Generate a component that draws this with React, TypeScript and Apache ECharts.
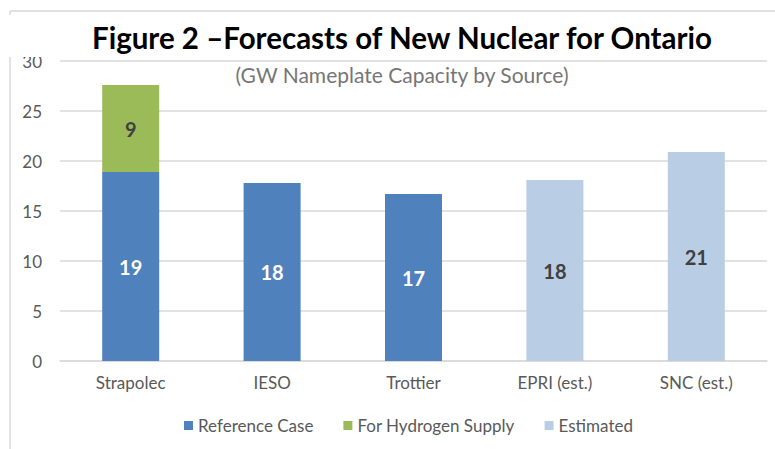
import React, { useEffect, useRef } from "react";
import * as echarts from "echarts";

const categories = ["Strapolec", "IESO", "Trottier", "EPRI (est.)", "SNC (est.)"];
const referenceCase = [18.9, 17.8, 16.7, null, null];
const hydrogenSupply = [8.7, null, null, null, null];
const estimated = [null, null, null, 18.1, 20.9];
const yTicks = { min: 0, max: 30, interval: 5 };

const FONT = "Lato, 'Open Sans', sans-serif";

export default function App() {
  const ref = useRef<HTMLDivElement>(null);
  useEffect(() => {
    if (!ref.current) return;
    const chart = echarts.init(ref.current, undefined, { renderer: "svg" });
    const lbl = (color: string) => ({
      show: true,
      position: "inside",
      color,
      fontFamily: FONT,
      fontWeight: "bold",
      fontSize: 20,
      formatter: (p: any) => (p.value == null ? "" : String(Math.round(p.value))),
    });
    const toData = (arr: (number | null)[]) => arr.map((v) => (v == null ? "-" : v));
    chart.setOption({
      animation: false,
      backgroundColor: "#ffffff",
      title: [
        {
          text: "Figure 2 \u2013Forecasts of New Nuclear for Ontario",
          left: 397,
          textAlign: "center",
          top: 17,
          z: 10,
          textStyle: { fontFamily: FONT, fontWeight: "bold", fontSize: 29.5, color: "#000000" },
        },
        {
          text: "(GW Nameplate Capacity by Source)",
          left: 397,
          textAlign: "center",
          top: 59,
          z: 10,
          textStyle: { fontFamily: FONT, fontWeight: "normal", fontSize: 21, color: "#767676" },
        },
      ],
      graphic: [
        { type: "line", shape: { x1: 10, y1: 11, x2: 775, y2: 11 }, style: { stroke: "#d9d9d9", lineWidth: 1.5 }, z: 1 },
        { type: "line", shape: { x1: 10, y1: 11, x2: 10, y2: 449 }, style: { stroke: "#d9d9d9", lineWidth: 1.5 }, z: 1 },
        { type: "rect", shape: { x: 0, y: 15, width: 775, height: 42 }, style: { fill: "#ffffff" }, z: 5 },
      ],
      legend: {
        bottom: 10,
        left: 179,
        itemWidth: 9,
        itemHeight: 9,
        itemGap: 30,
        icon: "rect",
        textStyle: { fontFamily: FONT, fontSize: 17, color: "#595959" },
        data: ["Reference Case", "For Hydrogen Supply", "Estimated"],
      },
      grid: { left: 60, right: 8, top: 61, bottom: 88, containLabel: false },
      xAxis: {
        type: "category",
        data: categories,
        axisLine: { lineStyle: { color: "#d9d9d9", width: 1.5 } },
        axisTick: { show: false },
        axisLabel: { fontFamily: FONT, fontSize: 17, color: "#595959", margin: 13 },
      },
      yAxis: {
        type: "value",
        min: yTicks.min,
        max: yTicks.max,
        interval: yTicks.interval,
        axisLine: { show: false },
        axisTick: { show: false },
        splitLine: { lineStyle: { color: "#d9d9d9", width: 1.5 } },
        axisLabel: { fontFamily: FONT, fontSize: 17, color: "#595959", margin: 18 },
      },
      series: [
        {
          name: "Reference Case",
          type: "bar",
          stack: "total",
          barWidth: 57,
          data: toData(referenceCase),
          itemStyle: { color: "#4f81bd" },
          label: lbl("#ffffff"),
        },
        {
          name: "For Hydrogen Supply",
          type: "bar",
          stack: "total",
          barWidth: 57,
          data: toData(hydrogenSupply),
          itemStyle: { color: "#9bbb59" },
          label: lbl("#404040"),
        },
        {
          name: "Estimated",
          type: "bar",
          stack: "total",
          barWidth: 57,
          data: toData(estimated),
          itemStyle: { color: "#b9cde5" },
          label: lbl("#404040"),
        },
      ],
    });
    return () => chart.dispose();
  }, []);
  return (
    <div
      ref={ref}
      style={{ position: "fixed", left: 0, top: 0, width: 775, height: 449 }}
    />
  );
}
